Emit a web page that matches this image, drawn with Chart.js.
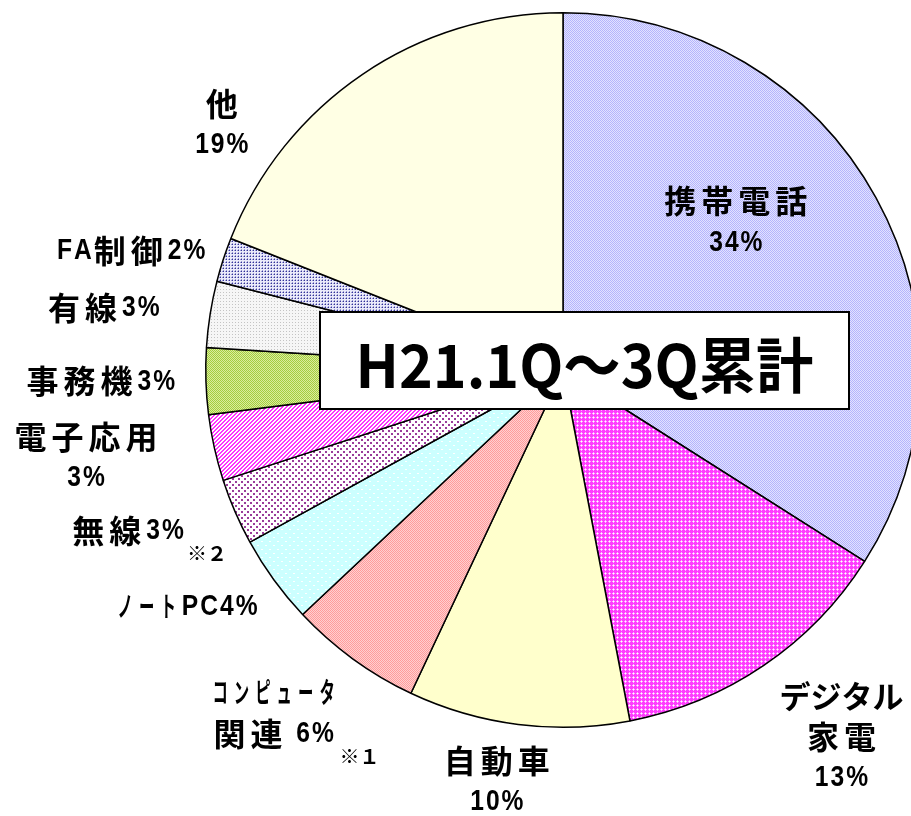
<!DOCTYPE html>
<html>
<head>
<meta charset="utf-8">
<script src="https://cdn.jsdelivr.net/npm/chart.js@4.4.1/dist/chart.umd.min.js"></script>
<style>
  html, body { margin: 0; padding: 0; background: #fff; overflow: hidden; }
  #wrap { position: absolute; left: 0; top: 0; }
</style>
</head>
<body>
<div id="wrap"><canvas id="pieChart" width="930" height="816"></canvas></div>
<script>
// 用途別の構成比（H21.1Q～3Q累計）
const categories = ['携帯電話', 'デジタル家電', '自動車', 'コンピュータ関連', 'ノートPC', '無線', '電子応用', '事務機', '有線', 'FA制御', '他'];
const shares = [34, 13, 10, 6, 4, 3, 3, 3, 3, 2, 19];
const chartTitle = 'H21.1Q～3Q累計';

// ラベルの行分け（表示用テキスト）
function labelLines(i) {
  const p = shares[i] + '%';
  switch (i) {
    case 0: return ['携帯電話', p];
    case 1: return ['デジタル', '家電', p];
    case 2: return ['自動車', p];
    case 3: return ['コンピュータ', '関連 ' + p];
    case 6: return ['電子応用', p];
    case 10: return ['他', p];
    default: return [categories[i] + p];
  }
}
const footnotes = { 3: '※１', 5: '※２' };
// 半角カナ風に細く描く行（スライス番号-行番号）
const narrowLines = ['3-0', '4-0'];

// ラベル位置：角度(上から時計回り, 度) と 半径比
const labelPlace = [
  [45.7, 0.676], [139.5, 1.20], [189.6, 1.110], [221.9, 1.213], [237.8, 1.242],
  [249.7, 1.298], [262.0, 1.348], [268.6, 1.294], [277.7, 1.297], [285.4, 1.254], [308.0, 1.212]
];

// 塗りつぶしパターンを作る
function tile(w, h, bg, pixels) {
  const c = document.createElement('canvas');
  c.width = w; c.height = h;
  const g = c.getContext('2d');
  g.fillStyle = bg;
  g.fillRect(0, 0, w, h);
  pixels.forEach(([x, y, col, pw, ph]) => {
    g.fillStyle = col;
    g.fillRect(x, y, pw || 1, ph || 1);
  });
  return g.createPattern(c, 'repeat');
}

function stripes() {
  const px = [];
  for (let y = 0; y < 4; y++) {
    for (let x = 0; x < 4; x++) {
      if ((x + y) % 4 < 2) px.push([x, y, '#ff33ff']);
    }
  }
  return tile(4, 4, '#ffffff', px);
}

const fills = [
  tile(2, 2, '#b4b4fc', [[1, 0, '#e2e2ff'], [0, 1, '#e2e2ff']]),
  tile(4, 4, '#ff3cff', [[1, 1, '#ffffff'], [0, 1, '#ffb4ff'], [2, 1, '#ffb4ff'], [1, 0, '#ffb4ff'], [1, 2, '#ffb4ff']]),
  '#ffffcc',
  tile(2, 2, '#ff9c9c', [[1, 0, '#ffd0d0'], [0, 1, '#ffd0d0']]),
  tile(8, 8, '#ccffff', [[1, 1, '#ffffff', 2, 1], [5, 5, '#ffffff', 2, 1]]),
  tile(6, 6, '#ffffff', [[1, 1, '#9a3c9a', 2, 2], [4, 4, '#9a3c9a', 2, 2]]),
  stripes(),
  tile(2, 2, '#a4cc40', [[1, 0, '#daee9c'], [0, 1, '#daee9c']]),
  tile(3, 3, '#f6f6f6', [[1, 1, '#c4c4c4']]),
  tile(3, 3, '#eaeafa', [[1, 1, '#333399'], [0, 1, '#9a9ad0'], [1, 0, '#9a9ad0']]),
  '#ffffe4'
];

// 文字の種類ごとのフォント・横倍率・字間
const glyphStyles = {
  kanji: { font: 'bold 32px "Noto Sans CJK JP", sans-serif', sx: 1, gap: 5 },
  kana: { font: 'bold 31px "Noto Sans CJK JP", sans-serif', sx: 1, gap: 0 },
  narrowKana: { font: 'bold 28px "Noto Sans CJK JP", sans-serif', sx: 0.55, gap: 6 },
  latin: { font: 'bold 30px "Liberation Sans", sans-serif', sx: 0.82, gap: 2 },
};

function glyphStyle(ch, narrow) {
  const c = ch.charCodeAt(0);
  if (c >= 0x30A0 && c <= 0x30FF) return narrow ? glyphStyles.narrowKana : glyphStyles.kana;
  if (c >= 0x2E80) return glyphStyles.kanji;
  return glyphStyles.latin;
}

// 1行を字ごとに描いて中央揃え
function drawLine(ctx, text, cx, cy, narrow) {
  const items = Array.from(text).map(ch => {
    const st = glyphStyle(ch, narrow);
    ctx.font = st.font;
    return { ch, st, w: ctx.measureText(ch).width * st.sx };
  });
  let total = 0;
  items.forEach((it, k) => { total += it.w + (k < items.length - 1 ? it.st.gap : 0); });
  let x = cx - total / 2;
  ctx.textAlign = 'left';
  items.forEach(it => {
    ctx.save();
    ctx.font = it.st.font;
    ctx.translate(x, cy);
    ctx.scale(it.st.sx, 1);
    ctx.fillText(it.ch, 0, 0);
    ctx.restore();
    x += it.w + it.st.gap;
  });
}

// ラベルとタイトルを描くプラグイン
const labelPlugin = {
  id: 'pieLabels',
  afterDraw(chart) {
    const ctx = chart.ctx;
    const arcs = chart.getDatasetMeta(0).data;
    const cx = arcs[0].x, cy = arcs[0].y, r = arcs[0].outerRadius;
    ctx.save();
    ctx.fillStyle = '#000';
    ctx.textBaseline = 'middle';
    labelPlace.forEach(([deg, k], i) => {
      const a = deg * Math.PI / 180;
      const x = cx + Math.sin(a) * k * r;
      const y = cy - Math.cos(a) * k * r;
      labelLines(i).forEach((t, j) => drawLine(ctx, t, x, y + j * 41, narrowLines.includes(i + '-' + j)));
      if (footnotes[i]) {
        ctx.font = 'bold 20px "Noto Sans CJK JP", sans-serif';
        ctx.textAlign = 'center';
        const off = i === 3 ? [86, 64] : [79, 23];
        ctx.fillText(footnotes[i], x + off[0], y + off[1]);
      }
    });

    // タイトル枠
    const bx = 320, by = 312, bw = 529, bh = 97;
    ctx.fillStyle = '#fff';
    ctx.fillRect(bx, by, bw, bh);
    ctx.strokeStyle = '#000';
    ctx.lineWidth = 2;
    ctx.strokeRect(bx, by, bw, bh);
    ctx.fillStyle = '#000';
    ctx.font = 'bold 60px "Noto Sans CJK JP", sans-serif';
    ctx.textAlign = 'center';
    ctx.textBaseline = 'alphabetic';
    const w = ctx.measureText(chartTitle).width;
    const target = 458;
    ctx.translate(bx + bw / 2, 388);
    ctx.scale(target / w, 1);
    ctx.fillText(chartTitle, 0, 0);
    ctx.restore();
  }
};

const ctxPie = document.getElementById('pieChart').getContext('2d');
new Chart(ctxPie, {
  type: 'pie',
  data: {
    labels: categories,
    datasets: [{
      data: shares,
      backgroundColor: fills,
      borderColor: '#000',
      borderWidth: 1.5,
    }],
  },
  options: {
    responsive: false,
    animation: false,
    layout: { padding: { left: 205, right: 9, top: 12, bottom: 88 } },
    plugins: {
      legend: { display: false },
      tooltip: { enabled: false },
    },
  },
  plugins: [labelPlugin],
});
</script>
</body>
</html>
